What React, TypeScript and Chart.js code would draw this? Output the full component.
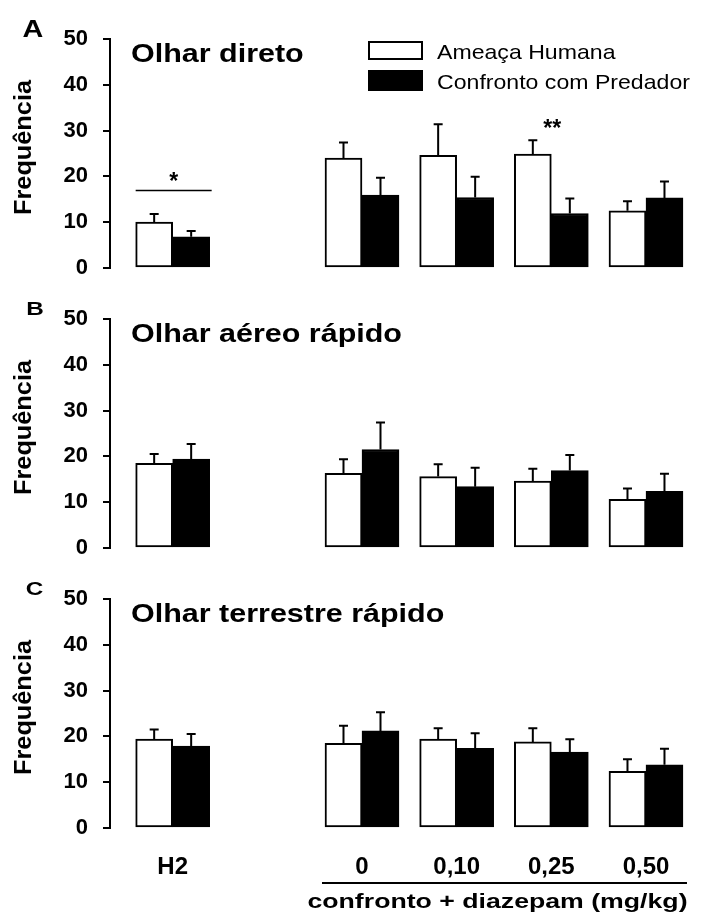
import React, { useEffect, useRef } from 'react';
import { Chart, registerables } from 'chart.js';

Chart.register(...registerables);

// ---------- data ----------
const categories = ['H2', '', '0', '0,10', '0,25', '0,50'];
const seriesNames = ['Ameaça Humana', 'Confronto com Predador'];
const yTicks = [0, 10, 20, 30, 40, 50];
const yAxisTitle = 'Frequência';
const groupLabel = 'confronto + diazepam (mg/kg)';
const groupFirst = '0';
const groupLast = '0,50';

// Panel A
const A_title = 'Olhar direto';
const A_ameaca = [10.0, null, 24.0, 24.6, 24.9, 12.5];
const A_ameacaErr = [1.8, null, 3.4, 6.8, 3.0, 2.1];
const A_predador = [6.8, null, 15.9, 15.4, 11.9, 15.3];
const A_predadorErr = [1.3, null, 3.8, 4.5, 3.3, 3.6];
const A_sigMarks = ['*', '', '', '', '**', ''];
const A_sigValues = [20.2, null, null, null, 31.8, null];
const A_sigLines = [16.9, null, null, null, null, null];

// Panel B
const B_title = 'Olhar aéreo rápido';
const B_ameaca = [18.5, null, 16.3, 15.6, 14.6, 10.6];
const B_ameacaErr = [2.0, null, 3.1, 2.7, 2.7, 2.4];
const B_predador = [19.4, null, 21.5, 13.4, 16.9, 12.4];
const B_predadorErr = [3.3, null, 5.9, 4.1, 3.4, 3.8];

// Panel C
const C_title = 'Olhar terrestre rápido';
const C_ameaca = [19.4, null, 18.5, 19.4, 18.8, 12.4];
const C_ameacaErr = [2.1, null, 3.8, 2.4, 3.0, 2.6];
const C_predador = [17.9, null, 21.2, 17.4, 16.6, 13.8];
const C_predadorErr = [2.6, null, 4.1, 3.3, 2.8, 3.5];

// ---------- styling ----------
const FONT = '"Liberation Sans", Arial, Helvetica, sans-serif';
const X_MIN = -0.662;
const X_MAX = 5.465;

function drawText(ctx: CanvasRenderingContext2D, text: string, x: number, y: number, font: string, align: CanvasTextAlign, sx = 1, rot = 0) {
  ctx.save();
  ctx.font = font;
  ctx.textAlign = align;
  ctx.textBaseline = 'alphabetic';
  ctx.fillStyle = '#000';
  ctx.translate(x, y);
  if (rot) ctx.rotate(rot);
  ctx.scale(sx, 1);
  ctx.fillText(text, 0, 0);
  ctx.restore();
}

function toPoints(vals: (number | null)[], errs: (number | null)[]) {
  const data: { x: number; y: number }[] = [];
  const e: number[] = [];
  vals.forEach((v, i) => {
    if (v !== null && v !== undefined) {
      data.push({ x: i, y: v });
      e.push((errs[i] as number) || 0);
    }
  });
  return { data, e };
}

type PanelDef = {
  letter: string;
  letterFont: string;
  letterSx: number;
  letterX: number;
  letterY: number;
  title: string;
  ameaca: (number | null)[];
  ameacaErr: (number | null)[];
  predador: (number | null)[];
  predadorErr: (number | null)[];
  legend?: boolean;
  sigMarks?: string[];
  sigValues?: (number | null)[];
  sigLines?: (number | null)[];
  showX?: boolean;
  height: number;
  top: number;
};

const panels: PanelDef[] = [
  {
    letter: 'A', letterFont: `bold 23px ${FONT}`, letterSx: 1.25, letterX: 33, letterY: 36.5,
    title: A_title, ameaca: A_ameaca, ameacaErr: A_ameacaErr, predador: A_predador, predadorErr: A_predadorErr,
    legend: true, sigMarks: A_sigMarks, sigValues: A_sigValues, sigLines: A_sigLines,
    height: 280, top: 0,
  },
  {
    letter: 'B', letterFont: `bold 18px ${FONT}`, letterSx: 1.35, letterX: 35, letterY: 35,
    title: B_title, ameaca: B_ameaca, ameacaErr: B_ameacaErr, predador: B_predador, predadorErr: B_predadorErr,
    height: 280, top: 280,
  },
  {
    letter: 'C', letterFont: `bold 18px ${FONT}`, letterSx: 1.35, letterX: 34.5, letterY: 35,
    title: C_title, ameaca: C_ameaca, ameacaErr: C_ameacaErr, predador: C_predador, predadorErr: C_predadorErr,
    showX: true, height: 364, top: 560,
  },
];

function makePlugin(p: PanelDef) {
  return {
    id: 'panelDecor',
    afterDraw(chart: any) {
      const ctx: CanvasRenderingContext2D = chart.ctx;
      const yS = chart.scales.y;
      ctx.save();
      ctx.strokeStyle = '#000';
      ctx.fillStyle = '#000';

      // error bars
      chart.data.datasets.forEach((ds: any, di: number) => {
        const meta = chart.getDatasetMeta(di);
        meta.data.forEach((el: any, j: number) => {
          const v = ds.data[j].y;
          const e = ds.errors[j];
          const yTop = yS.getPixelForValue(v + e);
          ctx.lineWidth = 2;
          ctx.beginPath();
          ctx.moveTo(el.x, el.y);
          ctx.lineTo(el.x, yTop);
          ctx.moveTo(el.x - 4.5, yTop);
          ctx.lineTo(el.x + 4.5, yTop);
          ctx.stroke();
        });
      });

      const findEl = (di: number, catIdx: number) => {
        const ds = chart.data.datasets[di];
        const j = ds.data.findIndex((d: any) => d.x === catIdx);
        return j >= 0 ? chart.getDatasetMeta(di).data[j] : null;
      };

      // significance
      if (p.sigMarks) {
        p.sigMarks.forEach((m, i) => {
          const w = findEl(0, i);
          const b = findEl(1, i);
          if (!w || !b) return;
          const left = w.x - w.width / 2;
          const right = b.x + b.width / 2;
          const lv = p.sigLines ? p.sigLines[i] : null;
          if (lv !== null && lv !== undefined) {
            const ly = yS.getPixelForValue(lv);
            ctx.lineWidth = 1.5;
            ctx.beginPath();
            ctx.moveTo(left, ly);
            ctx.lineTo(right + 2, ly);
            ctx.stroke();
          }
          const sv = p.sigValues ? p.sigValues[i] : null;
          if (m && sv !== null && sv !== undefined) {
            const sy = yS.getPixelForValue(sv);
            drawText(ctx, m, (left + right) / 2 + 1, sy + 13.5, `bold 23px ${FONT}`, 'center');
          }
        });
      }

      // panel letter
      drawText(ctx, p.letter, p.letterX, p.letterY, p.letterFont, 'center', p.letterSx);
      // title
      drawText(ctx, p.title, 131, 62, `bold 26.5px ${FONT}`, 'left', 1.15);
      // y axis title
      drawText(ctx, yAxisTitle, 31, 147.5, `bold 23px ${FONT}`, 'center', 1.1, -Math.PI / 2);

      // legend
      if (p.legend) {
        const ds0 = chart.data.datasets[0];
        const ds1 = chart.data.datasets[1];
        ctx.fillStyle = ds0.backgroundColor;
        ctx.fillRect(368, 41, 55, 19);
        ctx.lineWidth = 2;
        ctx.strokeStyle = ds0.borderColor;
        ctx.strokeRect(369, 42, 53, 17);
        ctx.fillStyle = ds1.backgroundColor;
        ctx.fillRect(368, 70, 55, 21);
        drawText(ctx, ds0.label, 437, 58.5, `21px ${FONT}`, 'left', 1.1);
        drawText(ctx, ds1.label, 437, 88.5, `21px ${FONT}`, 'left', 1.1);
      }

      // group bracket
      if (p.showX) {
        const a = findEl(0, categories.indexOf(groupFirst));
        const b = findEl(1, categories.indexOf(groupLast));
        if (a && b) {
          const l = a.x - a.width / 2 - 3;
          const r = b.x + b.width / 2 + 4;
          ctx.lineWidth = 2;
          ctx.strokeStyle = '#000';
          ctx.beginPath();
          ctx.moveTo(l, 323);
          ctx.lineTo(r, 323);
          ctx.stroke();
          drawText(ctx, groupLabel, (l + r) / 2 - 7, 347.5, `bold 21px ${FONT}`, 'center', 1.27);
        }
      }
      ctx.restore();
    },
  };
}

function Panel({ p }: { p: PanelDef }) {
  const ref = useRef<HTMLCanvasElement>(null);
  useEffect(() => {
    if (!ref.current) return;
    const w = toPoints(p.ameaca, p.ameacaErr);
    const k = toPoints(p.predador, p.predadorErr);
    const chart = new Chart(ref.current, {
      type: 'bar',
      data: {
        datasets: [
          {
            label: seriesNames[0],
            data: w.data,
            errors: w.e,
            backgroundColor: '#ffffff',
            borderColor: '#000000',
            borderWidth: 2,
            borderSkipped: false,
            barThickness: 37,
          } as any,
          {
            label: seriesNames[1],
            data: k.data,
            errors: k.e,
            backgroundColor: '#000000',
            borderColor: '#000000',
            borderWidth: 2,
            borderSkipped: false,
            barThickness: 37,
          } as any,
        ],
      },
      options: {
        responsive: false,
        animation: false,
        events: [],
        layout: { padding: { left: 0, right: 11, top: 39, bottom: p.showX ? 0 : 12 } },
        plugins: { legend: { display: false }, tooltip: { enabled: false } },
        scales: {
          x: {
            type: 'linear',
            min: X_MIN,
            max: X_MAX,
            offset: false,
            display: !!p.showX,
            grid: { display: false, drawTicks: false, offset: false },
            border: { display: false },
            ticks: {
              autoSkip: false,
              maxRotation: 0,
              padding: 25,
              color: '#000',
              font: { family: FONT, size: 24, weight: 'bold' },
              callback: (v: any) => categories[v as number] ?? '',
            },
            afterBuildTicks: (s: any) => {
              s.ticks = categories
                .map((c, i) => ({ value: i, c }))
                .filter((t) => t.c !== '')
                .map((t) => ({ value: t.value }));
            },
            afterFit: (s: any) => {
              s.paddingLeft = 0;
              s.paddingRight = 0;
              if (p.showX) s.height = p.height - 268;
            },
          },
          y: {
            type: 'linear',
            min: 0,
            max: 50,
            grid: { display: true, drawOnChartArea: false, drawTicks: true, tickLength: 7, lineWidth: 2, color: '#000' },
            border: { display: true, width: 2, color: '#000' },
            ticks: {
              padding: 15,
              color: '#000',
              font: { family: FONT, size: 22, weight: 'bold' },
            },
            afterBuildTicks: (s: any) => {
              s.ticks = yTicks.map((v) => ({ value: v }));
            },
            afterFit: (s: any) => {
              s.width = 110;
              s.paddingTop = 0;
              s.paddingBottom = 0;
            },
          },
        },
      } as any,
      plugins: [makePlugin(p)],
    });
    return () => chart.destroy();
  }, []);
  return (
    <canvas
      ref={ref}
      width={701}
      height={p.height}
      style={{ position: 'absolute', left: 0, top: p.top, display: 'block' }}
    />
  );
}

export default function App() {
  return (
    <div style={{ position: 'absolute', left: 0, top: 0, width: 701, height: 924, background: '#fff' }}>
      {panels.map((p) => (
        <Panel key={p.letter} p={p} />
      ))}
    </div>
  );
}
